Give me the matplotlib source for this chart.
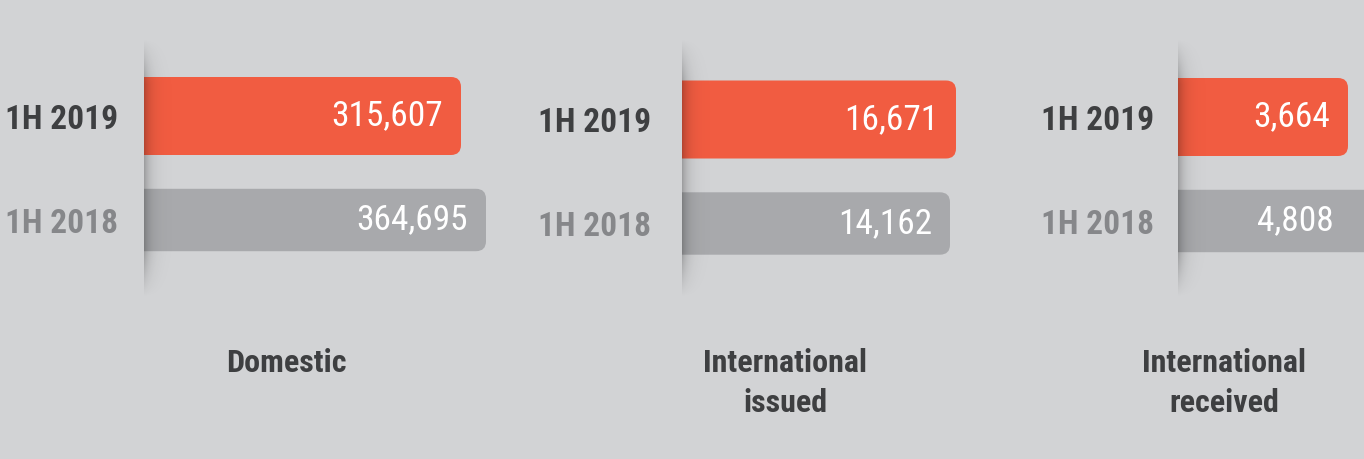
import matplotlib
matplotlib.use("Agg")
import matplotlib.pyplot as plt
from matplotlib import font_manager
from matplotlib.patches import FancyBboxPatch
from matplotlib.transforms import IdentityTransform
import numpy as np

# ---------------- data ----------------
periods = ["1H 2019", "1H 2018"]
categories = ["Domestic", "International\nissued", "International\nreceived"]
values_2019 = [315607, 16671, 3664]
values_2018 = [364695, 14162, 4808]

# ---------------- style / layout ----------------
W, H, DPI = 1364, 460, 100
BG = "#d2d3d5"
ORANGE = "#f15c41"
GREY = "#a8a9ac"
DARK = "#3e3f41"
LIGHT = "#86878a"

names = {f.name for f in font_manager.fontManager.ttflist}
FONT = "DejaVu Sans"
for cand in ["Liberation Sans Narrow", "Roboto Condensed", "DejaVu Sans"]:
    if cand in names:
        FONT = cand
        break

# per panel: bar-left px, axes-right px, first-row centre px, axis start value,
# axis end value, period label gap px, category label centre px
panels = [
    dict(left=144, right=520, c0=117, start=-306829, end=431455, gap=26, cx=286),
    dict(left=682, right=1000, c0=120.5, start=-97907, end=35070, gap=31, cx=785),
    dict(left=1178, right=1364, c0=118, start=0, end=4009, gap=24, cx=1224),
]
ROW = 104          # px between row centres
BAR_H = [0.75, 0.6]
RADIUS = 10        # px
CAT_BASE = 372     # px baseline of first label line
CAT_LS = 40        # px line step

fig = plt.figure(figsize=(W / DPI, H / DPI), dpi=DPI, facecolor=BG)

for i, p in enumerate(panels):
    top = p["c0"] - ROW / 2
    ax = fig.add_axes([p["left"] / W, 1 - (top + 2 * ROW) / H,
                       (p["right"] - p["left"]) / W, 2 * ROW / H])
    ax.set_facecolor("none")
    ax.set_xlim(p["start"], p["end"])
    ax.set_ylim(1.5, -0.5)
    ax.axis("off")

    vals = [values_2019[i], values_2018[i]]
    cols = [ORANGE, GREY]
    bars = ax.barh([0, 1], [v - p["start"] for v in vals], left=p["start"],
                   height=BAR_H, color=cols)

    # replace with right-rounded bars
    for rect, c in zip(bars, cols):
        x0, y0 = rect.get_x(), rect.get_y()
        (xa, ya), (xb, yb) = ax.transData.transform(
            [(x0, y0), (x0 + rect.get_width(), y0 + rect.get_height())])
        xd0, xd1 = min(xa, xb), max(xa, xb)
        yd0, yd1 = min(ya, yb), max(ya, yb)
        fb = FancyBboxPatch((xd0 - RADIUS, yd0), xd1 - xd0 + RADIUS, yd1 - yd0,
                            boxstyle=f"round,pad=0,rounding_size={RADIUS}",
                            transform=IdentityTransform(), facecolor=c,
                            edgecolor="none", zorder=2)
        ax.add_artist(fb)
        fb.set_clip_box(ax.bbox)
        rect.set_visible(False)

    # value labels
    for j, v in enumerate(vals):
        if v <= p["end"]:
            xy, off = (v, j), -18
        else:
            xy, off = (p["end"], j), -30
        ax.annotate(f"{v:,}", xy=xy, xycoords="data", xytext=(off, 1),
                    textcoords="offset pixels", ha="right", va="center",
                    color="white", fontsize=25.5, family=FONT,
                    fontweight="normal", fontstretch="condensed", zorder=5,
                    annotation_clip=False)

    # period labels
    for j, (lab, c) in enumerate(zip(periods, [DARK, LIGHT])):
        ax.annotate(lab, xy=(0, j), xycoords=("axes fraction", "data"),
                    xytext=(-p["gap"], -3), textcoords="offset pixels",
                    ha="right", va="center", color=c, fontsize=24,
                    fontweight="bold", family=FONT, fontstretch="condensed",
                    annotation_clip=False)

    # category label
    for k, line in enumerate(categories[i].split("\n")):
        fig.text(p["cx"] / W, 1 - (CAT_BASE + k * CAT_LS) / H, line,
                 ha="center", va="baseline", color=DARK, fontsize=23,
                 fontweight="bold", family=FONT, fontstretch="condensed")

    # left-edge shadow
    sw, sy0, sy1 = 30, 40, 298
    sax = fig.add_axes([p["left"] / W, 1 - sy1 / H, sw / W, (sy1 - sy0) / H],
                       zorder=3)
    sax.axis("off")
    xs = np.arange(sw)
    ys = np.arange(sy1 - sy0)
    ax_prof = np.exp(-xs / 6.5)
    ramp = np.clip(np.minimum(ys / 45.0, (ys[-1] - ys) / 45.0), 0, 1)
    alpha = 0.25 * ramp[:, None] * ax_prof[None, :]
    img = np.zeros((len(ys), sw, 4))
    img[..., 3] = alpha
    sax.imshow(img, aspect="auto", extent=(0, sw, 0, len(ys)),
               interpolation="bilinear")
    sax.set_xlim(0, sw)
    sax.set_ylim(0, len(ys))

fig.savefig("out.png", dpi=DPI, facecolor=BG)
